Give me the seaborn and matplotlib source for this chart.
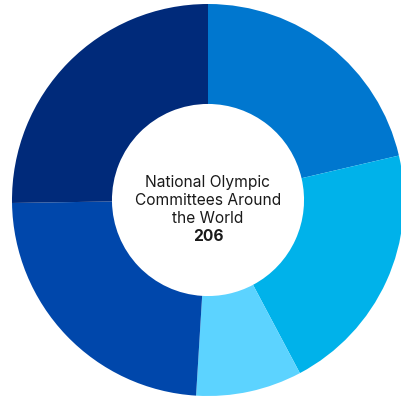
import numpy as np
import pandas as pd
import matplotlib
matplotlib.use('Agg')
import matplotlib.pyplot as plt
import seaborn as sns

# Dados
regioes = ['Asia', 'Americas', 'Oceania', 'Europe', 'Africa']
qtd = [44, 43, 18, 49, 52]
cores = ['#0077CF', '#00B2EA', '#5CD3FF', '#0047AB', '#002A7A']
titulo = ['National Olympic', 'Committees Around', 'the World']
total = 206

sns.set_style('white')
plt.rcParams['font.family'] = ['Inter', 'DejaVu Sans']

Base_Dados = pd.DataFrame({'Regiao': regioes, 'Qtd': qtd})

fig = plt.figure(figsize=(4.01, 3.99), dpi=100)
ax = fig.add_axes([12 / 401, 3 / 399, 392 / 401, 392 / 399])

ax.pie(
    Base_Dados['Qtd'],
    colors=sns.color_palette(cores),
    startangle=90,
    counterclock=False,
    radius=1,
    wedgeprops=dict(width=0.51, linewidth=0, edgecolor='none')
)
ax.set_xlim(-1, 1)
ax.set_ylim(-1, 1)
ax.set_aspect('equal')
ax.axis('off')

# Texto central
y_linhas = [0.066, -0.026, -0.117]
for txt, y in zip(titulo, y_linhas):
    ax.text(0, y, txt, ha='center', va='baseline', fontsize=11.2, color='#1a1a1a')
ax.text(0, -0.209, str(total), ha='center', va='baseline', fontsize=11.2,
        fontweight='bold', color='#1a1a1a')

fig.savefig('out.png', dpi=100)
